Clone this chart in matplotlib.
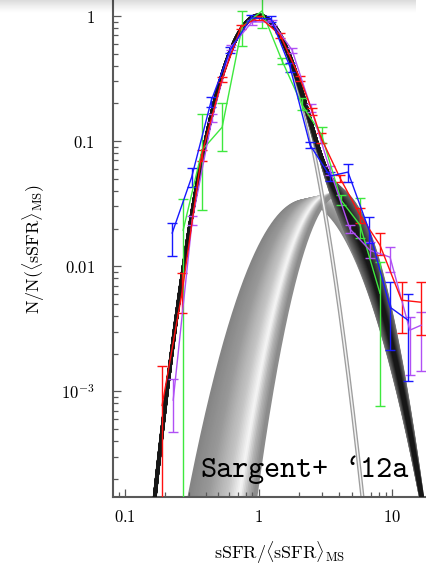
import os
import numpy as np
import matplotlib
matplotlib.use('Agg')
import matplotlib.pyplot as plt
import matplotlib.transforms as mtransforms
from matplotlib.font_manager import FontProperties
from matplotlib.ticker import FixedLocator, FixedFormatter, NullFormatter, LogLocator

plt.rcParams['mathtext.fontset'] = 'cm'

# main-sequence log-normal: peak, log10 centre, width (dex)
ms_amp, ms_center, ms_sigma = 1.0, 0.0, 0.185
# starburst log-normals, the shaded band runs between these two ends
sb_amp = [0.033, 0.038]
sb_center = [0.35, 0.60]
sb_sigma = [0.263, 0.187]
n_sb = 40

# measured distributions (x, y, lower, upper end of error bar)
blue_x = [0.225, 0.315, 0.441, 0.612, 0.879, 1.24, 1.72, 2.43, 3.43, 4.68, 6.73, 9.67, 13.2]
blue_y = [0.0184, 0.0515, 0.209, 0.535, 0.964, 0.946, 0.391, 0.0929, 0.0525, 0.0565, 0.0194, 0.0047, 0.0037]
blue_lo = [0.0120, 0.0429, 0.187, 0.506, 0.912, 0.895, 0.356, 0.0879, 0.0479, 0.0470, 0.0153, 0.00213, 0.0012]
blue_hi = [0.0221, 0.0608, 0.225, 0.565, 1.018, 1.0, 0.421, 0.0982, 0.0565, 0.0655, 0.0247, 0.00745, 0.00597]

red_x = [0.189, 0.267, 0.374, 0.530, 0.739, 1.01, 1.45, 2.05, 2.52, 2.94, 4.08, 5.76, 8.13, 11.8, 16.5]
red_y = [7.7e-4, 0.0062, 0.0773, 0.308, 0.817, 0.982, 0.705, 0.313, 0.174, 0.106, 0.0506, 0.0256, 0.0147, 0.00535, 0.00515]
red_lo = [1e-6, 0.0042, 0.0692, 0.296, 0.787, 0.929, 0.667, 0.302, 0.161, 0.0964, 0.047, 0.0221, 0.0122, 0.00291, 0.0028]
red_hi = [1.58e-3, 0.0088, 0.0847, 0.325, 0.847, 1.0, 0.731, 0.331, 0.184, 0.116, 0.0535, 0.0291, 0.0184, 0.00745, 0.00745]

green_x = [0.272, 0.377, 0.533, 0.752, 1.06, 1.50, 2.12, 2.97, 4.15, 5.76, 8.13]
green_y = [0.0194, 0.0847, 0.129, 0.817, 1.096, 0.437, 0.194, 0.112, 0.0337, 0.0213, 0.00608]
green_lo = [1e-6, 0.0281, 0.0832, 0.575, 0.802, 0.413, 0.177, 0.0964, 0.0308, 0.0167, 7.6e-4]
green_hi = [0.0344, 0.164, 0.201, 1.096, 1.45, 0.461, 0.221, 0.129, 0.037, 0.035, 0.0108]

purple_x = [0.229, 0.318, 0.449, 0.622, 0.893, 1.26, 1.78, 2.47, 3.43, 4.84, 6.84, 9.67, 13.6, 16.5]
purple_y = [8.5e-4, 0.0233, 0.153, 0.565, 0.895, 0.895, 0.535, 0.184, 0.0586, 0.0198, 0.0134, 0.0118, 0.00308, 0.00337]
purple_lo = [4.7e-4, 0.0213, 0.142, 0.535, 0.847, 0.847, 0.506, 0.170, 0.054, 0.0184, 0.0116, 0.00895, 0.00134, 0.00146]
purple_hi = [1.25e-3, 0.0251, 0.165, 0.586, 0.929, 0.929, 0.555, 0.199, 0.063, 0.0213, 0.0156, 0.0142, 0.0039, 0.00432]

xtick_vals = [0.1, 1, 10]
xtick_labels = ['0.1', '1', '10']
ytick_vals = [1, 0.1, 0.01, 0.001]
ytick_labels = ['1', '0.1', '0.01', '10^{-3}']


def lognorm(logx, amp, c, s):
    return amp * np.exp(-(logx - c) ** 2 / (2 * s ** 2))


fig = plt.figure(figsize=(4.27, 5.66), dpi=100)
ax = fig.add_axes([113 / 427, 69 / 566, 314 / 427, 497 / 566])
ax.set_xscale('log')
ax.set_yscale('log')
ax.set_xlim(0.081, 18.3)
ax.set_ylim(1.43e-4, 1.34)

lx = np.linspace(-1.3, 1.5, 800)
xx = 10 ** lx
ms = lognorm(lx, ms_amp, ms_center, ms_sigma)

# shaded starburst band
ts = np.linspace(0, 1, n_sb)
for t in ts:
    a = sb_amp[0] + t * (sb_amp[1] - sb_amp[0])
    c = sb_center[0] + t * (sb_center[1] - sb_center[0])
    s = sb_sigma[0] + t * (sb_sigma[1] - sb_sigma[0])
    g = np.interp(t, [0, 0.3, 0.6, 0.78, 0.9, 1], [0.52, 0.6, 0.78, 0.97, 0.7, 0.55])
    ax.plot(xx, lognorm(lx, a, c, s), color=str(g), lw=3, zorder=1)

# main sequence alone (light tube)
ax.plot(xx, ms, color='0.62', lw=3, zorder=2)
ax.plot(xx, ms, color='0.95', lw=1.1, zorder=2)

# total = MS + SB, dark tube
order = np.argsort(-np.abs(ts - 0.5))
for t in ts[order]:
    a = sb_amp[0] + t * (sb_amp[1] - sb_amp[0])
    c = sb_center[0] + t * (sb_center[1] - sb_center[0])
    s = sb_sigma[0] + t * (sb_sigma[1] - sb_sigma[0])
    g = np.interp(abs(t - 0.5), [0, 0.5], [0.08, 0.45])
    ax.plot(xx, ms + lognorm(lx, a, c, s), color=str(g), lw=2.6, zorder=3)

series = [
    (green_x, green_y, green_lo, green_hi, '#3ee83e'),
    (purple_x, purple_y, purple_lo, purple_hi, '#b050f5'),
    (red_x, red_y, red_lo, red_hi, '#ff1010'),
    (blue_x, blue_y, blue_lo, blue_hi, '#1818ff'),
]
for xs, ys, lo, hi, col in series:
    ys = np.array(ys)
    yerr = [ys - np.array(lo), np.array(hi) - ys]
    ax.errorbar(xs, ys, yerr=yerr, color=col, lw=1, elinewidth=1,
                capsize=3.5, capthick=1, zorder=4)

# axes styling
for side in ['top', 'right']:
    ax.spines[side].set_visible(False)
for side in ['left', 'bottom']:
    ax.spines[side].set_color('0.35')
    ax.spines[side].set_linewidth(1.5)
ax.tick_params(which='both', direction='in', color='0.35', width=0.9,
               top=False, right=False)
ax.tick_params(which='major', length=6, labelsize=12)
ax.tick_params(which='minor', length=3.6)
ax.tick_params(axis='y', which='major', pad=13)
ax.tick_params(axis='x', which='major', pad=8)

ax.xaxis.set_major_locator(FixedLocator(xtick_vals))
ax.xaxis.set_major_formatter(FixedFormatter(['$' + s + '$' for s in xtick_labels]))
ax.yaxis.set_major_locator(FixedLocator(ytick_vals))
ax.yaxis.set_major_formatter(FixedFormatter(['$' + s + '$' for s in ytick_labels]))
ax.xaxis.set_minor_locator(LogLocator(base=10, subs=np.arange(2, 10), numticks=20))
ax.yaxis.set_minor_locator(LogLocator(base=10, subs=np.arange(2, 10), numticks=20))
ax.xaxis.set_minor_formatter(NullFormatter())
ax.yaxis.set_minor_formatter(NullFormatter())

ax.set_xlabel(r'$\mathrm{sSFR}/\langle\mathrm{sSFR}\rangle_{\mathrm{MS}}$', fontsize=13)
ax.xaxis.set_label_coords(0.53, -0.085)
ax.set_ylabel(r'$\mathrm{N}/\mathrm{N}(\langle\mathrm{sSFR}\rangle_{\mathrm{MS}})$', fontsize=13)
ax.yaxis.set_label_coords(-0.21, 0.5)

tt = FontProperties(fname=os.path.join(matplotlib.get_data_path(), 'fonts', 'ttf', 'cmtt10.ttf'), size=22)
ax.text(0.277, 0.04, 'Sargent+', fontproperties=tt, transform=ax.transAxes, zorder=6)
tr = mtransforms.offset_copy(ax.transAxes, fig=fig, x=9 * 0.525 * 22, y=0, units='points')
ax.text(0.277, 0.04, '`12a', fontproperties=tt, transform=tr, zorder=6)

# drop shadow along the top edge
sh = fig.add_axes([0, 1 - 14 / 566, 416 / 427, 14 / 566], zorder=10)
grad = np.zeros((14, 1, 4))
grad[:, 0, 3] = np.linspace(0.22, 0.0, 14) ** 1.3
sh.imshow(grad, aspect='auto', extent=[0, 1, 0, 1])
sh.set_axis_off()

fig.savefig('out.png', dpi=100)
